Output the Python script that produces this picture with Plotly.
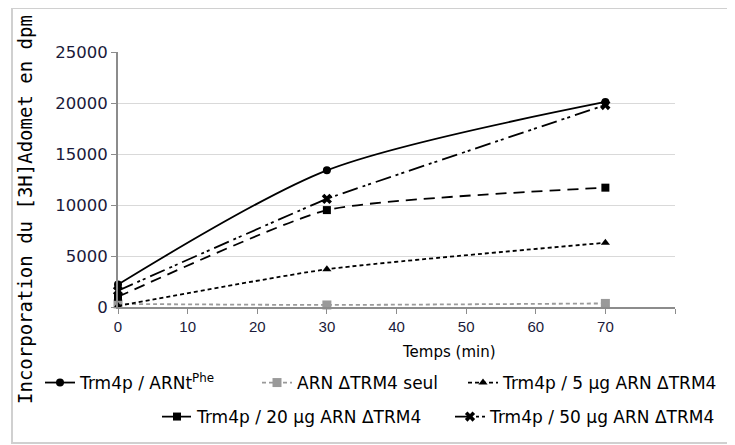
import plotly.graph_objects as go

time_min = [0, 30, 70]
trm4p_arnt = [2200, 13400, 20100]
arn_seul = [300, 200, 350]
trm4p_5ug = [100, 3700, 6300]
trm4p_20ug = [1000, 9500, 11700]
trm4p_50ug = [1600, 10600, 19800]

names = [
    "Trm4p / ARNt<sup>Phe</sup>",
    "ARN ΔTRM4 seul",
    "Trm4p / 5 µg ARN ΔTRM4",
    "Trm4p / 20 µg ARN ΔTRM4",
    "Trm4p / 50 µg ARN ΔTRM4",
]
x_ticks = [0, 10, 20, 30, 40, 50, 60, 70, 80]
x_ticklabels = ["0", "10", "20", "30", "40", "50", "60", "70", " "]
y_ticks = [0, 5000, 10000, 15000, 20000, 25000]
y_ticklabels = ["0", "5000", "10000", "15000", "20000", "25000"]

# page body has an 8px default margin; work in page pixels and subtract it
OFF = 8
W, H = 735 - OFF, 445 - OFF
L, T = 118 - OFF, 52 - OFF
R = W - (675 - OFF)
B = H - (307 - OFF)
pw, ph = W - L - R, H - T - B


def px_x(px):
    return (px - OFF - L) / pw


def px_y(py):
    return (H - B - (py - OFF)) / ph


fig = go.Figure()
styles = [
    (trm4p_arnt, "#000000", "solid", "circle", 8, 0.8),
    (arn_seul, "#9a9a9a", "4px,3px", "square", 9, 0.5),
    (trm4p_5ug, "#000000", "4px,3px", "triangle-up", 8, 0.5),
    (trm4p_20ug, "#000000", "11px,7px", "square", 8, 0.5),
    (trm4p_50ug, "#000000", "16px,5px,3px,3px,3px,5px", "x", 9, 0.2),
]
legend_ids = ["legend", "legend2", "legend3", "legend4", "legend5"]
legend_pos = [(40, 383), (257, 383), (463, 383), (157, 417), (450, 417)]

for (vals, col, dash, sym, size, sm), name, lid in zip(styles, names, legend_ids):
    fig.add_trace(go.Scatter(
        x=time_min, y=vals, name=name, mode="lines+markers",
        line=dict(color=col, width=1.8, dash=dash, shape="spline", smoothing=sm),
        marker=dict(symbol=sym, size=size, color=col),
        legend=lid, cliponaxis=False,
    ))

legend_layouts = {}
for lid, (lx, ly) in zip(legend_ids, legend_pos):
    legend_layouts[lid] = dict(orientation="h", x=px_x(lx), y=px_y(ly),
                               xanchor="left", yanchor="middle", xref="paper", yref="paper",
                               font=dict(size=17, family="DejaVu Sans"),
                               bgcolor="rgba(0,0,0,0)")

fig.update_layout(
    width=W, height=H,
    margin=dict(l=L, r=R, t=T, b=B, autoexpand=False),
    paper_bgcolor="white", plot_bgcolor="white",
    font=dict(family="DejaVu Sans", color="#000000"),
    xaxis=dict(range=[0, 80], tickvals=x_ticks, ticktext=x_ticklabels,
               showgrid=False, zeroline=False, showline=True, linecolor="#8c8c8c",
               linewidth=2, ticks="outside", ticklen=5, tickcolor="#8c8c8c",
               tickfont=dict(size=15, family="Liberation Sans", color="#1a1a3a")),
    yaxis=dict(range=[0, 25000], tickvals=y_ticks, ticktext=y_ticklabels,
               showgrid=True, gridcolor="#d9d9d9",
               gridwidth=1, zeroline=False, showline=True, linecolor="#8c8c8c",
               linewidth=2, ticks="outside", ticklen=5, tickcolor="#8c8c8c",
               tickfont=dict(size=16.5, family="DejaVu Sans", color="#1a1a3a")),
    showlegend=True,
    **legend_layouts,
)

fig.add_annotation(text="Temps (min)", xref="paper", yref="paper", x=px_x(449), y=px_y(352),
                   showarrow=False, font=dict(size=15, family="DejaVu Sans"),
                   xanchor="center", yanchor="middle")
fig.add_annotation(text="Incorporation du [3H]Adomet en dpm", xref="paper", yref="paper",
                   x=px_x(25), y=px_y(210), textangle=-90, showarrow=False,
                   font=dict(size=19, family="DejaVu Sans Mono"),
                   xanchor="center", yanchor="middle")
fig.add_shape(type="rect", xref="paper", yref="paper",
              x0=px_x(12), x1=px_x(733), y0=px_y(443), y1=px_y(8),
              line=dict(color="#d0d0d0", width=2), fillcolor="rgba(0,0,0,0)", layer="below")

fig.write_html("out.html")
